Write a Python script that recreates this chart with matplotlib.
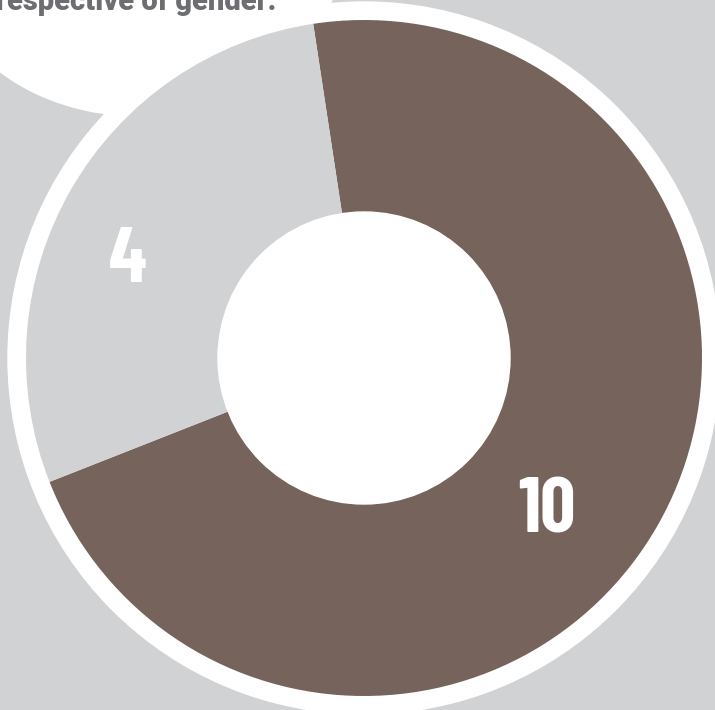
import matplotlib.pyplot as plt
from matplotlib.patches import Circle, Ellipse

# slice values (brown first, then grey)
labels = ['10', '4']
values = [10, 4]
colors = ['#76645c', '#d1d2d4']

BG = '#d1d2d4'
W, H = 715, 710

fig = plt.figure(figsize=(W / 100, H / 100), dpi=100, facecolor=BG)
ax = fig.add_axes([0, 0, 1, 1])
ax.set_facecolor(BG)

cx, cy = 364, H - 358
r_out, r_in = 338, 146

# white ellipse bubble at top-left, title text mostly cropped off the top
ax.add_patch(Ellipse((140, H + 34), 2 * 197, 2 * 150, color='white', zorder=1))
ax.text(-4, H - 10, 'respective of gender.', fontsize=21, fontweight=900,
        color='#6d6e71', family=['Roboto', 'DejaVu Sans'], ha='left',
        va='baseline', zorder=2)

# white ring around the donut
ax.add_patch(Circle((cx, cy), 356, color='white', zorder=3))

wedges, _ = ax.pie(values, colors=colors, startangle=201.5, center=(cx, cy),
                   radius=r_out, wedgeprops=dict(width=r_out - r_in, linewidth=0))
for w in wedges:
    w.set_zorder(4)
ax.add_patch(Circle((cx, cy), r_in, color='white', zorder=5))

label_pos = [(547, 505), (128, 255)]
for lab, (x, y) in zip(labels, label_pos):
    ax.text(x, H - y, lab, fontsize=56, fontweight='bold', color='white',
            family=['Barlow Condensed', 'Roboto Condensed', 'DejaVu Sans'],
            ha='center', va='center_baseline', zorder=6)

ax.set_xlim(0, W)
ax.set_ylim(0, H)
ax.set_aspect('auto')
ax.axis('off')

fig.savefig('out.png', dpi=100, facecolor=BG)
